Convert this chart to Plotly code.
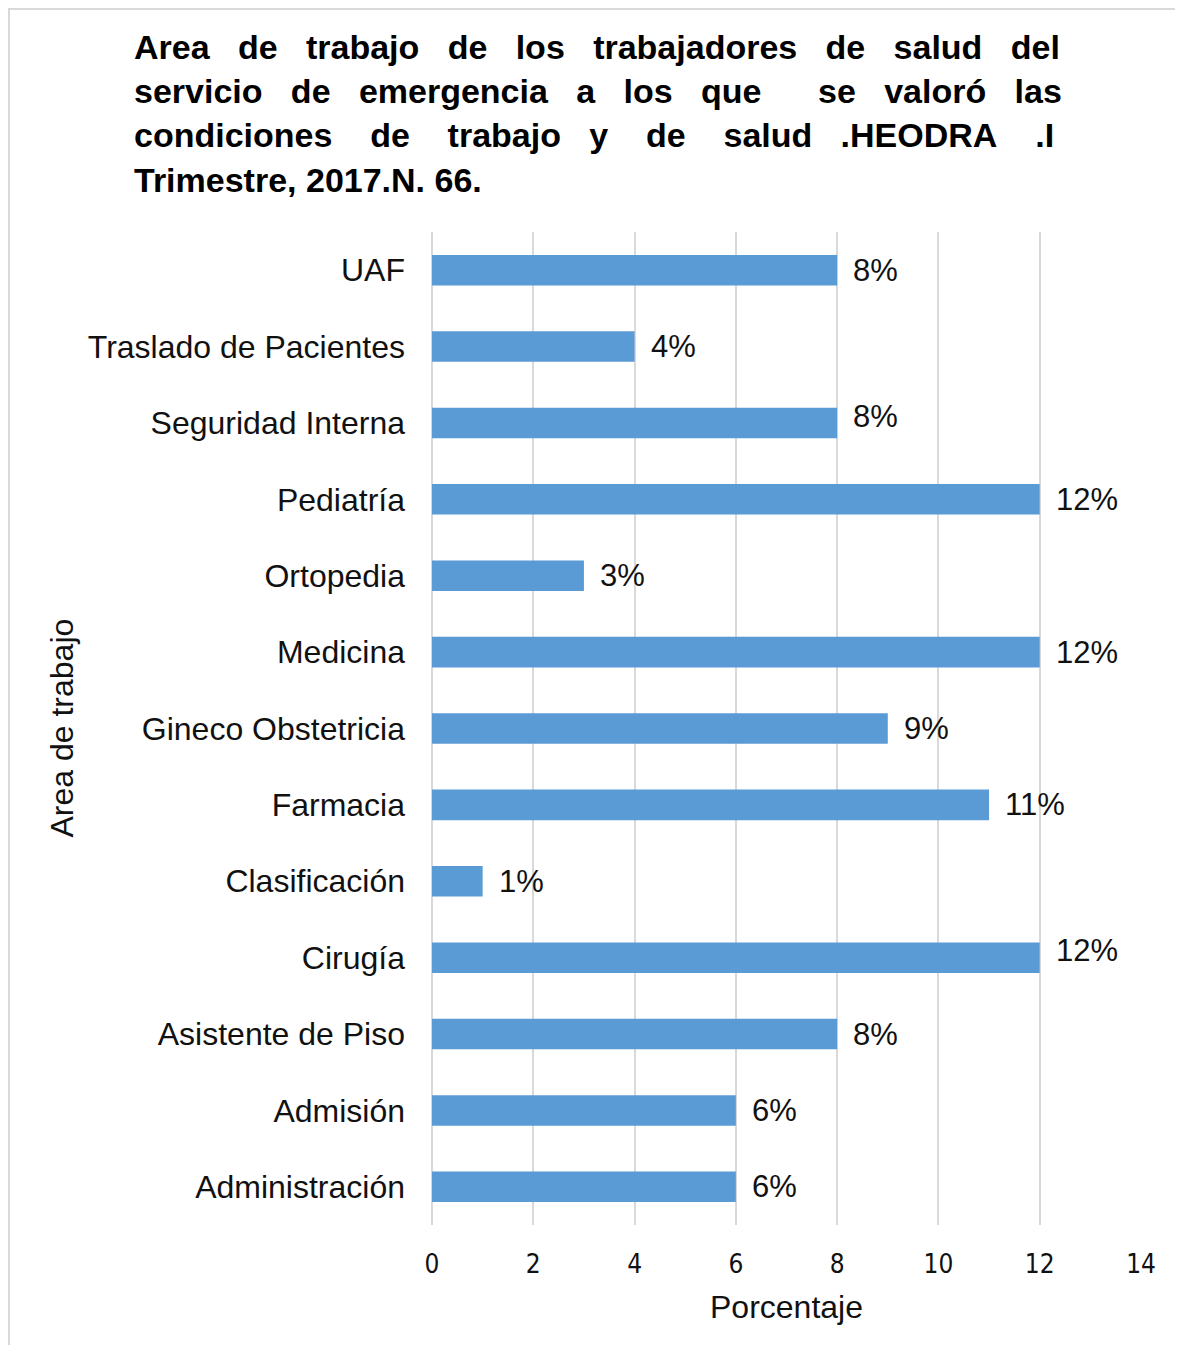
import plotly.graph_objects as go

# ── Data ──────────────────────────────────────────────────────────────────────
areas = [
    "UAF", "Traslado de Pacientes", "Seguridad Interna", "Pediatría",
    "Ortopedia", "Medicina", "Gineco Obstetricia", "Farmacia",
    "Clasificación", "Cirugía", "Asistente de Piso", "Admisión",
    "Administración",
]
porcentaje = [8, 4, 8, 12, 3, 12, 9, 11, 1, 12, 8, 6, 6]
x_ticks = [0, 2, 4, 6, 8, 10, 12, 14]

title_lines = [
    ["Area", "de", "trabajo", "de", "los", "trabajadores", "de", "salud", "del"],
    ["servicio", "de", "emergencia", "a", "los", "que", "", "se", "valoró", "las"],
    ["condiciones", "de", "trabajo", "y", "de", "salud", ".HEODRA", ".I"],
    ["Trimestre,", "2017.N.", "66."],
]

# ── Geometry (reference pixels, page has an 8px body margin) ─────────────────
FIG_W, FIG_H = 1167, 1337
PL, PR, PT, PB = 432, 1141, 232, 1225


def px_x(x):
    return (x - PL) / (PR - PL)


def px_y(y):
    return (PB - y) / (PB - PT)


# fake justification: widen gaps with non-breaking spaces (count per gap)
nb = "\u00a0"
gap_counts = [
    [3] * 8,
    [3] * 9,
    [4, 4, 3, 4, 4, 3, 4],
    [1, 1],
]


def justify(words, counts):
    out = words[0]
    for w, n in zip(words[1:], counts):
        out += nb * n + w
    return out


title_text = "<br>".join(justify(w, c) for w, c in zip(title_lines, gap_counts))

BAR = "#5B9BD5"
GRID = "#D9D9D9"
FONT = "Liberation Sans, Arial, sans-serif"

fig = go.Figure(go.Bar(
    x=porcentaje, y=areas, orientation="h",
    marker=dict(color=BAR, line=dict(width=0)),
    hovertemplate="%{y}: %{x}%<extra></extra>",
))

# value labels, a couple nudged up like in the original
label_nudge = {"Seguridad Interna": 6, "Cirugía": 7}
for a, v in zip(areas, porcentaje):
    fig.add_annotation(
        x=v, y=a, text=f"{v}%", showarrow=False,
        xanchor="left", yanchor="middle", xshift=14,
        yshift=label_nudge.get(a, 0),
        font=dict(family=FONT, size=31, color="#111111"),
    )

fig.add_annotation(
    x=px_x(132), y=px_y(114), xref="paper", yref="paper",
    text=f"<b>{title_text}</b>", showarrow=False, align="left",
    xanchor="left", yanchor="middle",
    font=dict(family=FONT, size=34, color="#000000"),
)
fig.add_annotation(
    x=0.5, y=px_y(1307), xref="paper", yref="paper",
    text="Porcentaje", showarrow=False, yanchor="middle",
    font=dict(family=FONT, size=32, color="#111111"),
)
fig.add_annotation(
    x=px_x(61), y=0.5, xref="paper", yref="paper",
    text="Area de trabajo", showarrow=False, textangle=-90,
    xanchor="center", yanchor="middle",
    font=dict(family=FONT, size=32, color="#111111"),
)

# faint frame round the chart area (left and top edges show)
fig.add_shape(
    type="rect", xref="paper", yref="paper",
    x0=px_x(9), x1=px_x(1200), y0=px_y(1370), y1=px_y(9),
    line=dict(color=GRID, width=2), fillcolor="rgba(0,0,0,0)",
)

fig.update_layout(
    width=FIG_W, height=FIG_H,
    margin=dict(l=PL - 8, r=1183 - PR - 8, t=PT - 8, b=1353 - PB - 8),
    plot_bgcolor="white", paper_bgcolor="white",
    bargap=0.6, showlegend=False,
    xaxis=dict(
        range=[0, 14], tickvals=x_ticks, showgrid=True,
        gridcolor=GRID, gridwidth=1.5, zeroline=True,
        zerolinecolor=GRID, zerolinewidth=1.5, showline=False,
        ticks="", ticklabelstandoff=21,
        tickfont=dict(family="Liberation Sans Narrow, DejaVu Sans Condensed, sans-serif",
                      size=26, color="#111111"),
    ),
    yaxis=dict(
        autorange="reversed", showgrid=False, zeroline=False,
        showline=False, ticks="", ticklabelstandoff=26,
        tickfont=dict(family=FONT, size=32, color="#111111"),
    ),
)

fig.write_html("out.html")
